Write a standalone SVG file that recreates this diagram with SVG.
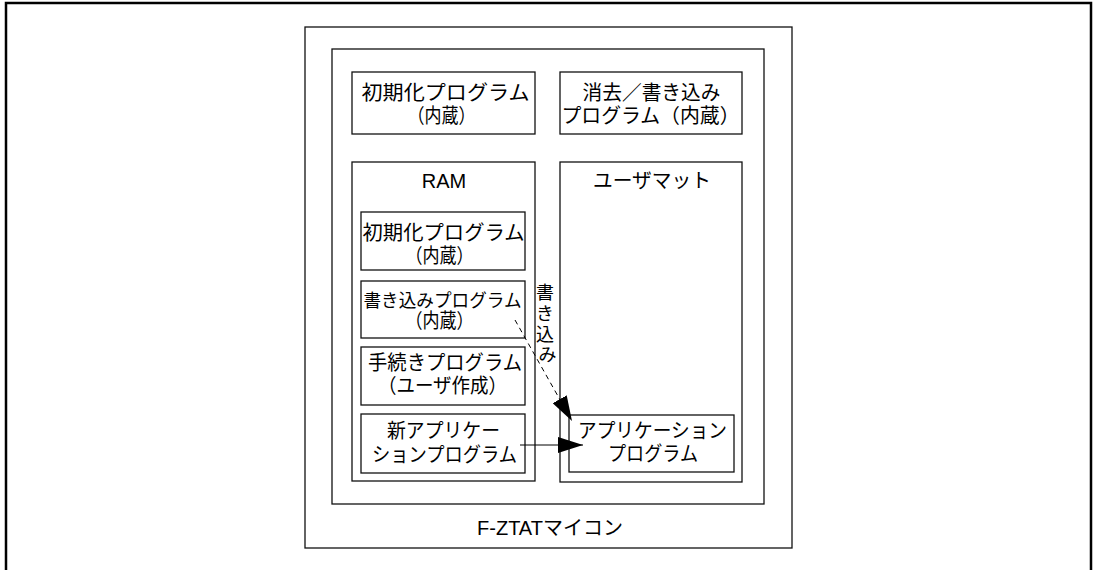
<svg xmlns="http://www.w3.org/2000/svg" width="1093" height="570" viewBox="0 0 1093 570">
<defs>
<style>
.box{fill:none;stroke:#111;stroke-width:1.3}
.frame{fill:none;stroke:#000;stroke-width:2.5}
.t{font-family:"Liberation Sans","Noto Sans CJK JP",sans-serif;font-size:20px;fill:#000;text-anchor:middle}
.v{font-size:18px}
.s{font-size:18px}
.conn{stroke:#000;stroke-width:1;fill:none}
.dash{stroke-dasharray:5 4}
</style>
<marker id="ah" markerUnits="userSpaceOnUse" markerWidth="25" markerHeight="16" refX="25" refY="8" orient="auto" viewBox="0 0 25 16">
<path d="M0,0 L25,8 L0,16 z" fill="#000"/>
</marker>
</defs>
<rect x="0" y="0" width="1093" height="570" fill="#fff"/>
<path class="frame" d="M6,572 V3 H1091 V572"/>
<g id="fztat">
<rect class="box" x="305" y="27" width="487" height="521"/>
<text class="t" x="550" y="535">F-ZTATマイコン</text>
</g>
<g id="inner">
<rect class="box" x="332" y="49" width="432" height="455"/>
</g>
<g id="init-top">
<rect class="box" x="352" y="72" width="183" height="62"/>
<text class="t" x="445.5" y="100" textLength="168" lengthAdjust="spacingAndGlyphs">初期化プログラム</text>
<text class="t" x="441.5" y="122.5" textLength="68" lengthAdjust="spacingAndGlyphs">（内蔵）</text>
</g>
<g id="erase-top">
<rect class="box" x="560" y="72" width="182" height="62"/>
<text class="t" x="651.5" y="100" textLength="138" lengthAdjust="spacingAndGlyphs">消去／書き込み</text>
<text class="t" x="650.5" y="122.5" textLength="178" lengthAdjust="spacingAndGlyphs">プログラム（内蔵）</text>
</g>
<g id="ram">
<rect class="box" x="352" y="162" width="183" height="319"/>
<text class="t" x="444" y="188">RAM</text>
</g>
<g id="ram-init">
<rect class="box" x="361" y="212" width="164" height="58"/>
<text class="t" x="443.5" y="240" textLength="162" lengthAdjust="spacingAndGlyphs">初期化プログラム</text>
<text class="t" x="439.5" y="262.5" textLength="68" lengthAdjust="spacingAndGlyphs">（内蔵）</text>
</g>
<g id="ram-write">
<rect class="box" x="361" y="281" width="164" height="57"/>
<text class="t s" x="442.5" y="307" textLength="158" lengthAdjust="spacingAndGlyphs">書き込みプログラム</text>
<text class="t" x="439.5" y="328" textLength="68" lengthAdjust="spacingAndGlyphs">（内蔵）</text>
</g>
<g id="ram-proc">
<rect class="box" x="361" y="347" width="164" height="58"/>
<text class="t" x="445" y="370" textLength="154" lengthAdjust="spacingAndGlyphs">手続きプログラム</text>
<text class="t" x="442.5" y="393" textLength="129" lengthAdjust="spacingAndGlyphs">（ユーザ作成）</text>
</g>
<g id="ram-newapp">
<rect class="box" x="361" y="414" width="164" height="59"/>
<text class="t" x="443.5" y="438" textLength="113" lengthAdjust="spacingAndGlyphs">新アプリケー</text>
<text class="t" x="444.5" y="462" textLength="145" lengthAdjust="spacingAndGlyphs">ションプログラム</text>
</g>
<g id="usermat">
<rect class="box" x="560" y="162" width="182" height="320"/>
<text class="t" x="652" y="188" textLength="118" lengthAdjust="spacingAndGlyphs">ユーザマット</text>
</g>
<g id="app">
<rect class="box" x="569" y="415" width="165" height="57"/>
<text class="t" x="652.5" y="438" textLength="149" lengthAdjust="spacingAndGlyphs">アプリケーション</text>
<text class="t" x="653" y="461" textLength="90" lengthAdjust="spacingAndGlyphs">プログラム</text>
</g>
<g id="connectors">
<line class="conn dash" x1="515" y1="320" x2="572" y2="421" marker-end="url(#ah)"/>
<line class="conn" x1="520" y1="445" x2="583" y2="445" marker-end="url(#ah)"/>
<text class="t v" x="547.5">
<tspan x="547.5" y="299">書</tspan>
<tspan x="547.5" y="320">き</tspan>
<tspan x="547.5" y="341">込</tspan>
<tspan x="547.5" y="361">み</tspan>
</text>
</g>
</svg>
